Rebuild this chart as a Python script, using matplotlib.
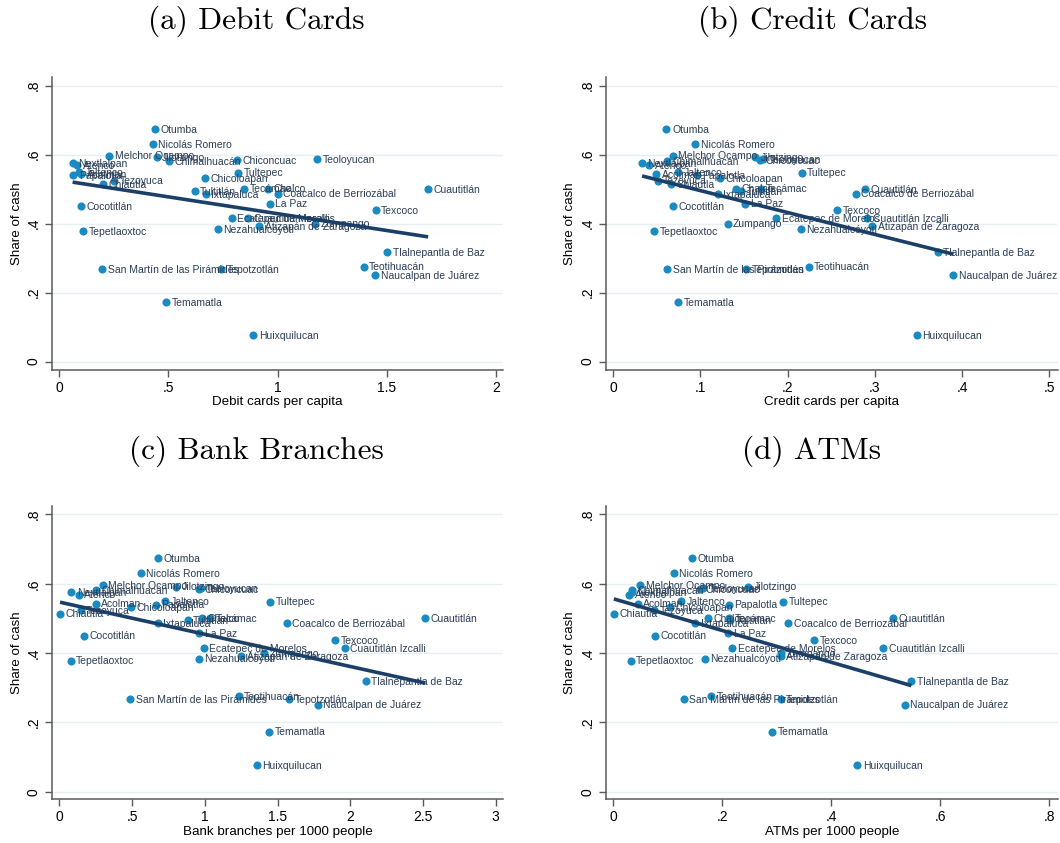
import numpy as np
import matplotlib
matplotlib.use("Agg")
import matplotlib.pyplot as plt

# municipalities and their share of cash (same in every panel)
names = ["Otumba", "Nicolás Romero", "Melchor Ocampo", "Jilotzingo", "Teoloyucan",
         "Chiconcuac", "Chimalhuacán", "Nextlalpan", "Atenco", "Jaltenco",
         "Tultepec", "Acolman", "Papalotla", "Chicoloapan", "Tezoyuca",
         "Chiautla", "Chalco", "Tecámac", "Cuautitlán", "Tultitlán",
         "Coacalco de Berriozábal", "Ixtapaluca", "La Paz", "Cocotitlán", "Texcoco",
         "Ecatepec de Morelos", "Cuautitlán Izcalli", "Zumpango", "Atizapán de Zaragoza",
         "Nezahualcóyotl", "Tepetlaoxtoc", "Tlalnepantla de Baz", "Teotihuacán",
         "San Martín de las Pirámides", "Tepotzotlán", "Naucalpan de Juárez",
         "Temamatla", "Huixquilucan"]

share_cash = [0.674, 0.630, 0.597, 0.592, 0.587, 0.584, 0.581, 0.576, 0.569, 0.549,
              0.548, 0.543, 0.540, 0.532, 0.524, 0.514, 0.501, 0.501, 0.500, 0.494,
              0.487, 0.486, 0.458, 0.450, 0.438, 0.415, 0.415, 0.400, 0.392, 0.384,
              0.378, 0.318, 0.275, 0.267, 0.267, 0.251, 0.173, 0.077]

debit_pc = [0.439, 0.428, 0.228, 0.446, 1.181, 0.813, 0.503, 0.061, 0.083, 0.090,
            0.821, 0.100, 0.064, 0.668, 0.252, 0.199, 0.958, 0.846, 1.690, 0.620,
            1.001, 0.671, 0.964, 0.098, 1.450, 0.790, 0.866, 1.172, 0.917, 0.726,
            0.110, 1.502, 1.395, 0.196, 0.741, 1.447, 0.490, 0.888]

credit_pc = [0.061, 0.094, 0.068, 0.1625, 0.172, 0.168, 0.062, 0.033, 0.041, 0.074,
             0.216, 0.049, 0.096, 0.122, 0.051, 0.066, 0.141, 0.169, 0.289, 0.147,
             0.278, 0.120, 0.151, 0.068, 0.257, 0.187, 0.291, 0.131, 0.297, 0.215,
             0.047, 0.372, 0.224, 0.062, 0.152, 0.390, 0.074, 0.348]

branches_pk = [0.678, 0.559, 0.300, 0.802, 0.972, 0.962, 0.252, 0.083, 0.133, 0.729,
               1.448, 0.250, 0.665, 0.493, 0.147, 0.005, 0.979, 1.038, 2.516, 0.882,
               1.563, 0.678, 0.962, 0.170, 1.897, 0.994, 1.961, 1.405, 1.251, 0.960,
               0.078, 2.106, 1.233, 0.486, 1.581, 1.776, 1.441, 1.359]

atms_pk = [0.145, 0.111, 0.049, 0.247, 0.165, 0.159, 0.035, 0.034, 0.029, 0.124,
           0.312, 0.045, 0.212, 0.104, 0.075, 0.001, 0.173, 0.212, 0.513, 0.214,
           0.321, 0.150, 0.211, 0.077, 0.368, 0.218, 0.495, 0.307, 0.307, 0.168,
           0.032, 0.547, 0.179, 0.129, 0.307, 0.535, 0.291, 0.448]

y_ticks = [0, 0.2, 0.4, 0.6, 0.8]
y_ticklabels = ["0", ".2", ".4", ".6", ".8"]

W, H = 1060, 843
DOT = "#1a8ac2"
TXT = "#2b3d55"
LINE = "#1b3f66"
GRID = "#e8eff2"
AXC = "#5a5a5a"

plt.rcParams["font.family"] = ["Liberation Sans", "DejaVu Sans"]
fig = plt.figure(figsize=(W / 100, H / 100), dpi=100)
fig.patch.set_facecolor("white")


def panel(px_left, px_right, px_bottom, px_top, xvals, xlim, ylim, xticks, xticklabels,
          xlabel, title, title_xy):
    ax = fig.add_axes([px_left / W, 1 - px_bottom / H,
                       (px_right - px_left) / W, (px_bottom - px_top) / H])
    x = np.array(xvals)
    y = np.array(share_cash)
    for t in y_ticks:
        ax.axhline(t, color=GRID, lw=1.0, zorder=0)
    ax.scatter(x, y, s=34, color=DOT, zorder=3, linewidths=0)
    for xi, yi, nm in zip(x, y, names):
        ax.annotate(nm, (xi, yi), xytext=(4, -0.5), textcoords="offset points",
                    fontsize=7.5, color=TXT, va="center", ha="left", zorder=4)
    b, a = np.polyfit(x, y, 1)
    xs = np.array([x.min(), x.max()])
    ax.plot(xs, a + b * xs, color=LINE, lw=2.6, zorder=5, solid_capstyle="butt")
    ax.set_xlim(*xlim)
    ax.set_ylim(*ylim)
    ax.set_xticks(xticks)
    ax.set_xticklabels(xticklabels, fontsize=10)
    ax.set_yticks(y_ticks)
    ax.set_yticklabels(y_ticklabels, fontsize=10, rotation=90, va="center")
    ax.tick_params(length=5, width=1, color=AXC, pad=3)
    for s in ["top", "right"]:
        ax.spines[s].set_visible(False)
    for s in ["left", "bottom"]:
        ax.spines[s].set_color(AXC)
        ax.spines[s].set_linewidth(1.1)
    ax.set_xlabel(xlabel, fontsize=9.6, labelpad=1)
    ax.set_ylabel("Share of cash", fontsize=9.6, labelpad=3)
    fig.text(title_xy[0] / W, 1 - title_xy[1] / H, title, family="cmr10",
             fontsize=22.5, ha="center", va="center")
    return ax


panel(52, 503, 370, 77, debit_pc, (-0.0335, 2.033), (-0.0246, 0.825),
      [0, 0.5, 1, 1.5, 2], ["0", ".5", "1", "1.5", "2"],
      "Debit cards per capita", "(a) Debit Cards", (256, 21))
panel(605.7, 1058, 370, 77, credit_pc, (-0.0087, 0.510), (-0.0246, 0.825),
      [0, 0.1, 0.2, 0.3, 0.4, 0.5], ["0", ".1", ".2", ".3", ".4", ".5"],
      "Credit cards per capita", "(b) Credit Cards", (813, 21))
panel(52, 503, 799.3, 505.8, branches_pk, (-0.050, 3.05), (-0.022, 0.825),
      [0, 0.5, 1, 1.5, 2, 2.5, 3], ["0", ".5", "1", "1.5", "2", "2.5", "3"],
      "Bank branches per 1000 people", "(c) Bank Branches", (256, 451))
panel(605.7, 1058, 799.3, 505.8, atms_pk, (-0.014, 0.816), (-0.022, 0.825),
      [0, 0.2, 0.4, 0.6, 0.8], ["0", ".2", ".4", ".6", ".8"],
      "ATMs per 1000 people", "(d) ATMs", (812, 451))

fig.savefig("out.png", dpi=100)
